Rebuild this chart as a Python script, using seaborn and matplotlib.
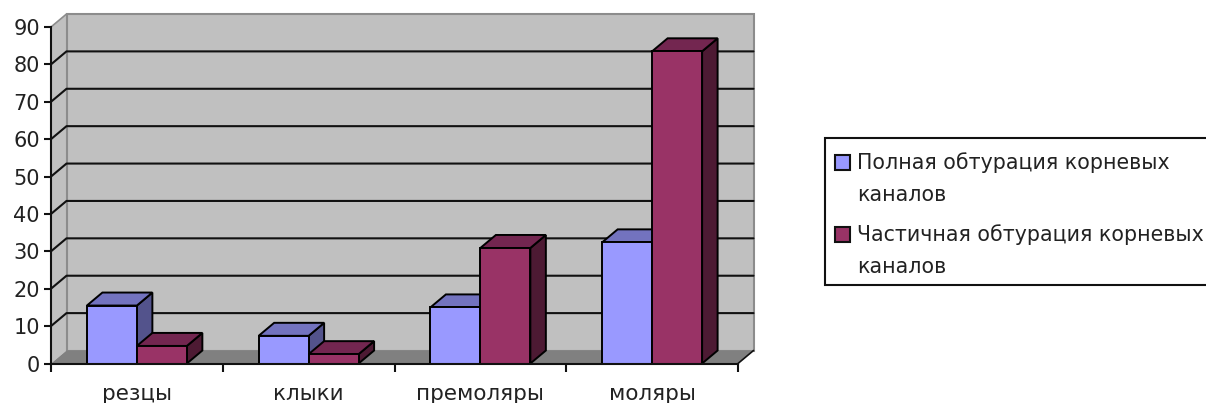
import matplotlib
matplotlib.use("Agg")
import matplotlib.pyplot as plt
from matplotlib.patches import Polygon, Rectangle
import pandas as pd
import seaborn as sns

categories = ["резцы", "клыки", "премоляры", "моляры"]
series_names = ["Полная обтурация корневых", "Частичная обтурация корневых"]
legend_tail = "каналов"
full_fill = [15.5, 7.4, 15.0, 32.4]
part_fill = [4.7, 2.5, 30.9, 83.5]

sns.set_theme(style="white")
plt.rcParams["font.family"] = ["DejaVu Sans"]

W, H = 1206, 403
fig = plt.figure(figsize=(W / 100, H / 100), dpi=100)
ax = fig.add_axes([51 / W, (H - 363.5) / H, 687 / W, 336.5 / H])

df = pd.DataFrame({
    "cat": categories * 2,
    "val": full_fill + part_fill,
    "name": [series_names[0]] * 4 + [series_names[1]] * 4,
})
colors = ["#9999ff", "#993366"]
tops = ["#7373bf", "#732650"]
sides = ["#53538c", "#4d1a33"]

sns.barplot(data=df, x="cat", y="val", hue="name", palette=colors, saturation=1,
            width=0.582, gap=0, edgecolor="black", linewidth=1.4, zorder=5,
            legend=False, ax=ax)
ax.set_xlim(-0.5, 3.5)
ax.set_ylim(0, 90)
ax.set_xlabel("")
ax.set_ylabel("")
ax.patch.set_visible(False)

# depth of the fake 3d box, in data units
dx = 15.5 / (687 / 4)
dy = 13 / (336.5 / 90)

# walls and floor
x0, x1 = -0.5, 3.5
ax.add_patch(Polygon([(x0, 0), (x0 + dx, dy), (x0 + dx, 90 + dy), (x0, 90)], fc="#c0c0c0",
                     ec="none", clip_on=False, zorder=1))
ax.add_patch(Rectangle((x0 + dx, dy), x1 - x0, 90, fc="#c0c0c0", ec="#8c8c8c", lw=1.5,
                       clip_on=False, zorder=1))
ax.add_patch(Polygon([(x0, 0), (x0 + dx, dy), (x1 + dx, dy), (x1, 0)], fc="#808080",
                     ec="none", clip_on=False, zorder=2))

yticks = list(range(0, 100, 10))
for t in yticks[1:-1]:
    ax.plot([x0, x0 + dx, x1 + dx], [t, t + dy, t + dy], color="#111111", lw=1.5,
            clip_on=False, zorder=2)
ax.plot([x0, x0 + dx], [90, 90 + dy], color="#8c8c8c", lw=1.2, clip_on=False, zorder=2)
ax.plot([x1, x1 + dx], [0, dy], color="#111111", lw=1.2, clip_on=False, zorder=2)

# sides and tops of the bars
for i, vals in enumerate([full_fill, part_fill]):
    for bar in ax.containers[i]:
        a = bar.get_x()
        b = a + bar.get_width()
        h = bar.get_height()
        ax.add_patch(Polygon([(b, 0), (b + dx, dy), (b + dx, h + dy), (b, h)], fc=sides[i],
                             ec="black", lw=1.4, clip_on=False, zorder=3))
        ax.add_patch(Polygon([(a, h), (a + dx, h + dy), (b + dx, h + dy), (b, h)], fc=tops[i],
                             ec="black", lw=1.4, clip_on=False, zorder=3))

sns.despine(ax=ax, top=True, right=True)
for s in ["left", "bottom"]:
    ax.spines[s].set_color("#111111")
    ax.spines[s].set_linewidth(1.5)
    ax.spines[s].set_zorder(6)

ax.set_yticks(yticks)
ax.tick_params(axis="y", length=5, width=1.5, color="#111111", labelsize=15,
               labelcolor="#222222", pad=3, left=True)
ax.set_xticks(range(4), categories)
ax.tick_params(axis="x", length=0, labelsize=15.5, labelcolor="#222222", pad=15)
ax.set_xticks([-0.5, 0.5, 1.5, 2.5, 3.5], minor=True)
ax.tick_params(axis="x", which="minor", length=6, width=1.5, color="#111111", bottom=True)

# legend box runs off the right edge like in the picture
fig.add_artist(Rectangle((825 / W, (H - 285) / H), 400 / W, 147 / H, transform=fig.transFigure,
                         fc="white", ec="#111111", lw=1.5))
for name, col, y1, y2 in zip(series_names, colors, [163, 235], [195, 267]):
    fig.add_artist(Rectangle((835 / W, (H - y1 - 7) / H), 15 / W, 15 / H, transform=fig.transFigure,
                             fc=col, ec="#111111", lw=1.5))
    fig.text(857 / W, (H - y1) / H, name, fontsize=14.8, color="#222222", va="center")
    fig.text(857 / W, (H - y2) / H, legend_tail, fontsize=14.8, color="#222222", va="center")

fig.savefig("out.png", dpi=100)
